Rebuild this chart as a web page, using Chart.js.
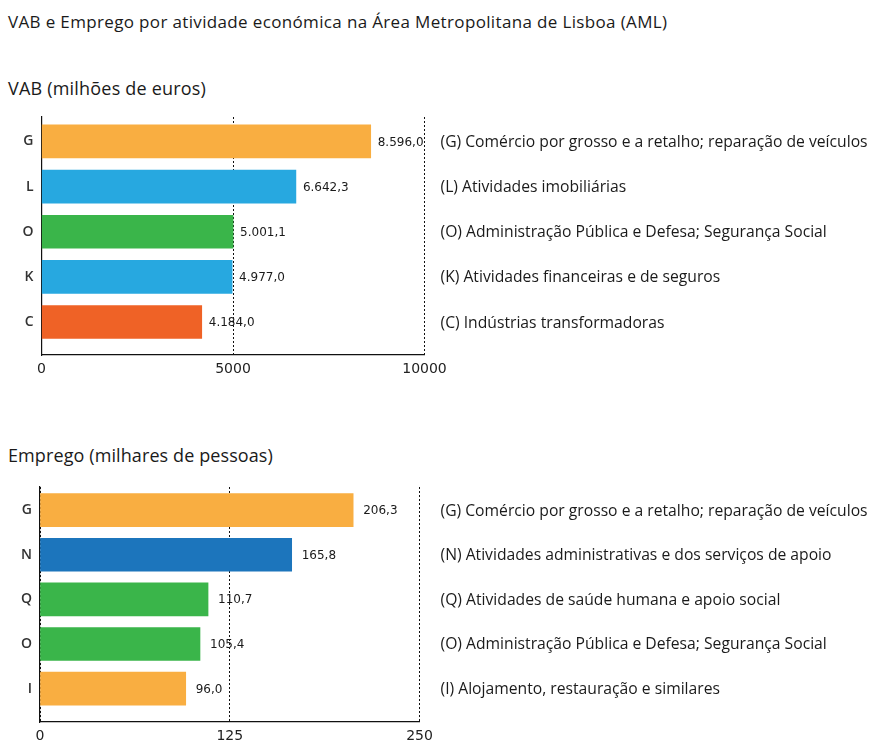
<!DOCTYPE html>
<html>
<head>
<meta charset="utf-8">
<script src="https://cdn.jsdelivr.net/npm/chart.js@4/dist/chart.umd.min.js"></script>
<style>
  html, body { margin: 0; padding: 0; background: #fff; }
  body { width: 876px; height: 742px; position: relative; overflow: hidden; font-family: 'Open Sans', sans-serif; color: #1a1a1a; }
  .t { position: absolute; left: 8px; white-space: nowrap; line-height: 1; }
  #title { top: 13px; font-size: 17px; letter-spacing: 0.35px; }
  #sub1 { top: 79px; font-size: 18px; letter-spacing: 0.2px; }
  #sub2 { top: 446px; font-size: 18px; letter-spacing: 0.1px; }
  canvas { position: absolute; left: 0; }
  #c1 { top: 100px; }
  #c2 { top: 470px; }
</style>
</head>
<body>
<div class="t" id="title">VAB e Emprego por atividade económica na Área Metropolitana de Lisboa (AML)</div>
<div class="t" id="sub1">VAB (milhões de euros)</div>
<div class="t" id="sub2">Emprego (milhares de pessoas)</div>
<canvas id="c1" width="876" height="290"></canvas>
<canvas id="c2" width="876" height="272"></canvas>
<script>
// ---- data ----
const vabCategories = ['G', 'L', 'O', 'K', 'C'];
const vabValues = [8596.0, 6642.3, 5001.1, 4977.0, 4184.0];
const vabDescriptions = [
  '(G) Comércio por grosso e a retalho; reparação de veículos',
  '(L) Atividades imobiliárias',
  '(O) Administração Pública e Defesa; Segurança Social',
  '(K) Atividades financeiras e de seguros',
  '(C) Indústrias transformadoras'
];
const vabColors = ['#F9AE41', '#27A8E0', '#3AB54A', '#27A8E0', '#EF6226'];
const vabTicks = [0, 5000, 10000];

const empCategories = ['G', 'N', 'Q', 'O', 'I'];
const empValues = [206.3, 165.8, 110.7, 105.4, 96.0];
const empDescriptions = [
  '(G) Comércio por grosso e a retalho; reparação de veículos',
  '(N) Atividades administrativas e dos serviços de apoio',
  '(Q) Atividades de saúde humana e apoio social',
  '(O) Administração Pública e Defesa; Segurança Social',
  '(I) Alojamento, restauração e similares'
];
const empColors = ['#F9AE41', '#1C75BC', '#3AB54A', '#3AB54A', '#F9AE41'];
const empTicks = [0, 125, 250];

// ---- helpers ----
function fmtPT(v) {
  const parts = v.toFixed(1).split('.');
  parts[0] = parts[0].replace(/\B(?=(\d{3})+(?!\d))/g, '.');
  return parts[0] + ',' + parts[1];
}

const sideLabels = {
  id: 'sideLabels',
  afterDatasetsDraw(chart, args, o) {
    const ctx = chart.ctx;
    const xs = chart.scales.x, ys = chart.scales.y;
    ctx.save();
    ctx.textBaseline = 'middle';
    ctx.textAlign = 'left';
    ctx.fillStyle = '#1a1a1a';
    ctx.font = o.valueFont;
    o.values.forEach((v, i) => {
      ctx.fillText(fmtPT(v), xs.getPixelForValue(v) + o.gap, ys.getPixelForValue(i) + 1);
    });
    ctx.font = o.descFont;
    o.descs.forEach((d, i) => {
      ctx.fillText(d, chart.chartArea.right + o.descGap, ys.getPixelForValue(i) + 1);
    });
    ctx.restore();
  }
};

function makeChart(id, cats, vals, colors, descs, ticks, cfg) {
  return new Chart(document.getElementById(id), {
    type: 'bar',
    data: {
      datasets: [{
        data: vals.map((v, i) => ({ x: v, y: i })),
        backgroundColor: colors,
        borderWidth: 0,
        barThickness: 33
      }]
    },
    options: {
      indexAxis: 'y',
      responsive: false,
      animation: false,
      events: [],
      layout: { padding: { left: 0, right: cfg.padRight, top: cfg.padTop, bottom: cfg.padBottom } },
      plugins: {
        legend: { display: false },
        tooltip: { enabled: false },
        sideLabels: {
          values: vals, descs: descs, gap: cfg.gap, descGap: cfg.descGap,
          valueFont: '12px "DejaVu Sans", sans-serif',
          descFont: '15.7px "Open Sans", sans-serif'
        }
      },
      scales: {
        x: {
          type: 'linear',
          min: ticks[0], max: ticks[ticks.length - 1],
          afterBuildTicks: (s) => { s.ticks = ticks.map(v => ({ value: v })); },
          afterFit: (s) => { s.height = cfg.xHeight; },
          grid: { color: '#111', lineWidth: 1, drawTicks: false },
          border: { display: true, color: '#111', width: 1.2, dash: [2, 2] },
          ticks: {
            color: '#222', padding: 6,
            font: { family: '"DejaVu Sans", sans-serif', size: 14 },
            callback: (v) => String(v)
          }
        },
        y: {
          type: 'linear',
          offset: false,
          reverse: true,
          bounds: 'data',
          min: cfg.yMin, max: cfg.yMax,
          afterBuildTicks: (s) => { s.ticks = cats.map((c, i) => ({ value: i })); },
          afterFit: (s) => { s.width = cfg.yWidth; },
          grid: { display: false, drawTicks: false, offset: false },
          border: { display: true, color: '#111', width: 1.2 },
          ticks: {
            color: '#333', padding: 8, autoSkip: false,
            font: { family: '"Open Sans", sans-serif', size: 14, weight: '600' },
            callback: (v) => cats[v]
          }
        }
      }
    },
    plugins: [sideLabels]
  });
}

const c1 = makeChart('c1', vabCategories, vabValues, vabColors, vabDescriptions, vabTicks, {
  padRight: 451.5, padTop: 17, padBottom: 5, xHeight: 30, yWidth: 41.5,
  yMin: -0.54, yMax: 4.73, gap: 7, descGap: 16
});
const c2 = makeChart('c2', empCategories, empValues, empColors, empDescriptions, empTicks, {
  padRight: 456.5, padTop: 17, padBottom: 0, xHeight: 20, yWidth: 40,
  yMin: -0.52, yMax: 4.75, gap: 10, descGap: 21
});
</script>
</body>
</html>
